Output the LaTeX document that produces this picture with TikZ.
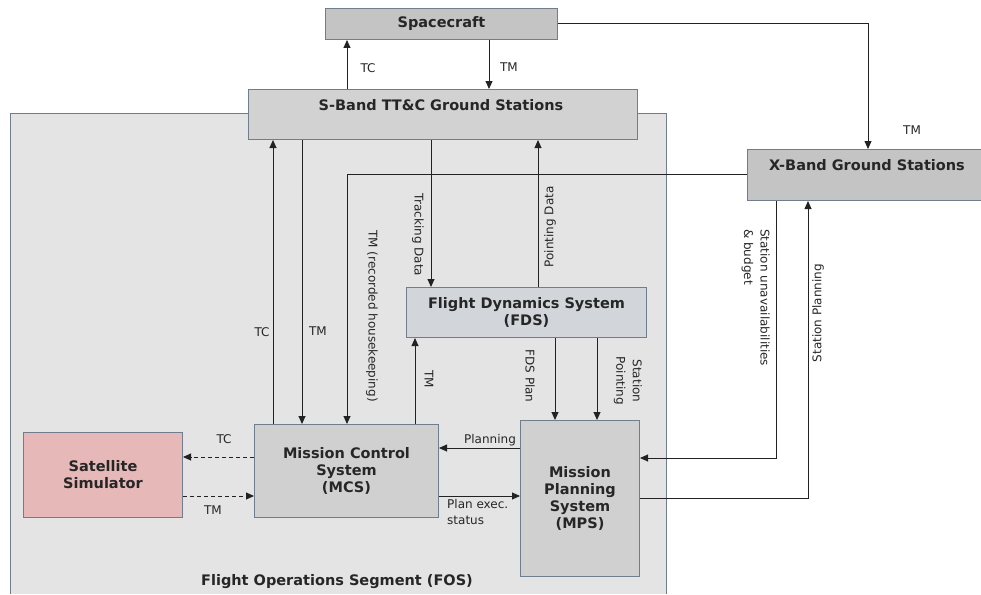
\documentclass[tikz,border=0pt]{standalone}
\usepackage{fontspec}
\setmainfont{DejaVu Sans}
\usetikzlibrary{arrows.meta}
\definecolor{bordc}{HTML}{6F7D8C}
\definecolor{fosbg}{HTML}{E4E4E4}
\definecolor{darkbox}{HTML}{C4C4C4}
\definecolor{sbbox}{HTML}{D2D2D2}
\definecolor{fdsbox}{HTML}{D2D5DA}
\definecolor{midbox}{HTML}{D0D0D0}
\definecolor{simbox}{HTML}{E6B9B8}
\definecolor{linec}{HTML}{222222}
\tikzset{
  box/.style={draw=bordc, line width=1pt, inner sep=0pt, anchor=north west},
  ttl/.style={font=\bfseries\fontsize{14.5}{17}\selectfont, align=center, text=black!85, inner sep=0pt},
  lbl/.style={font=\fontsize{12}{16.5}\selectfont, inner sep=0pt, text=black!85},
  arr/.style={draw=linec, line width=0.9pt, -{Triangle[length=8pt,width=7pt]}},
  ln/.style={draw=linec, line width=0.9pt},
  darr/.style={arr, dashed, dash pattern=on 4pt off 3pt}
}
\begin{document}
\begin{tikzpicture}[x=1pt,y=-1pt]
\useasboundingbox (0,0) rectangle (981,594);
% FOS background
\fill[fosbg] (10,113) rectangle (666,594);
\draw[bordc, line width=1pt] (10,594) -- (10,113) -- (666,113) -- (666,594);
\node[ttl] (fos) at (337,582) {Flight Operations Segment (FOS)};

% boxes
\node[box, fill=darkbox, minimum width=232pt, minimum height=31pt] (sc) at (325,8) {};
\node[ttl] (sct) at (sc.center) {Spacecraft};
\node[box, fill=sbbox, minimum width=389pt, minimum height=50pt] (sb) at (248,89) {};
\node[ttl] (sbt) at (441,105) {S-Band TT\&C Ground Stations};
\node[box, fill=darkbox, minimum width=240pt, minimum height=51pt] (xb) at (747,149) {};
\node[ttl] (xbt) at (867,165) {X-Band Ground Stations};
\node[box, fill=fdsbox, minimum width=240pt, minimum height=50pt] (fds) at (406,287) {};
\node[ttl] (fdst) at (fds.center) {Flight Dynamics System\\(FDS)};
\node[box, fill=midbox, minimum width=184pt, minimum height=93pt] (mcs) at (254,424) {};
\node[ttl] (mcst) at (mcs.center) {Mission Control\\System\\(MCS)};
\node[box, fill=midbox, minimum width=119pt, minimum height=156pt] (mps) at (520,420) {};
\node[ttl] (mpst) at (mps.center) {Mission\\Planning\\System\\(MPS)};
\node[box, fill=simbox, minimum width=159pt, minimum height=85pt] (sim) at (23,432) {};
\node[ttl] (simt) at (sim.center) {Satellite\\Simulator};

% x / y guide coordinates
\coordinate (c347) at (347,0);
\coordinate (c489) at (489,0);
\coordinate (c868) at (868,23);
\coordinate (c273) at (273,0);
\coordinate (c302) at (302,0);
\coordinate (c431) at (431,0);
\coordinate (c538) at (538,0);
\coordinate (c415) at (415,0);
\coordinate (c555) at (555,0);
\coordinate (c597) at (597,0);
\coordinate (c776) at (776,0);
\coordinate (c808) at (808,0);
\coordinate (y174) at (0,174);
\coordinate (y457) at (0,457);
\coordinate (y496) at (0,496);
\coordinate (y448) at (0,448);
\coordinate (y458) at (0,458);
\coordinate (y498) at (0,498);

% Spacecraft <-> S-Band
\draw[arr] (sb.north -| c347) -- (sc.south -| c347);
\node[lbl] (ltc1) at (368,68) {TC};
\draw[arr] (sc.south -| c489) -- (sb.north -| c489);
\node[lbl] (ltm1) at (509,67) {TM};
% Spacecraft -> X-Band
\draw[arr] (sc.east |- c868) -- (c868) -- (xb.north -| c868);
\node[lbl] (ltm2) at (912,130) {TM};

% S-Band <-> MCS
\draw[arr] (mcs.north -| c273) -- (sb.south -| c273);
\node[lbl] (ltc2) at (262,332) {TC};
\draw[arr] (sb.south -| c302) -- (mcs.north -| c302);
\node[lbl] (ltm3) at (318,331) {TM};

% X-Band -> MCS (recorded housekeeping)
\draw[arr] (xb.west |- y174) -- (c347 |- y174) -- (mcs.north -| c347);
\node[lbl, rotate=-90] (lrec) at (372,316) {TM (recorded housekeeping)};

% S-Band <-> FDS
\draw[arr] (sb.south -| c431) -- (fds.north -| c431);
\node[lbl, rotate=-90] (ltrk) at (418,235) {Tracking Data};
\draw[arr] (fds.north -| c538) -- (sb.south -| c538);
\node[lbl, rotate=90] (lpnt) at (550,227) {Pointing Data};

% MCS -> FDS
\draw[arr] (mcs.north -| c415) -- (fds.south -| c415);
\node[lbl, rotate=-90] (ltm4) at (429,379) {TM};

% FDS -> MPS
\draw[arr] (fds.south -| c555) -- (mps.north -| c555);
\node[lbl, rotate=-90] (lfdsp) at (530,376) {FDS Plan};
\draw[arr] (fds.south -| c597) -- (mps.north -| c597);
\node[lbl, rotate=-90, align=center] (lstp) at (628,381) {Station\\Pointing};

% X-Band <-> MPS
\draw[arr] (xb.south -| c776) -- (c776 |- y458) -- (mps.east |- y458);
\node[lbl, rotate=-90, align=left, anchor=north west] (lsun) at (770,229) {Station unavailabilities\\\& budget};
\draw[arr] (mps.east |- y498) -- (c808 |- y498) -- (xb.south -| c808);
\node[lbl, rotate=90] (lspl) at (818,313) {Station Planning};

% MCS <-> Simulator
\draw[darr] (mcs.west |- y457) -- (sim.east |- y457);
\node[lbl] (ltc3) at (224,439) {TC};
\draw[darr] (sim.east |- y496) -- (mcs.west |- y496);
\node[lbl] (ltm5) at (213,510) {TM};

% MCS <-> MPS
\draw[arr] (mps.west |- y448) -- (mcs.east |- y448);
\node[lbl] (lplan) at (490,440) {Planning};
\draw[arr] (mcs.east |- y496) -- (mps.west |- y496);
\node[lbl, align=left, anchor=north west] (lexec) at (447,499) {Plan exec.\\status};
\end{tikzpicture}
\end{document}
